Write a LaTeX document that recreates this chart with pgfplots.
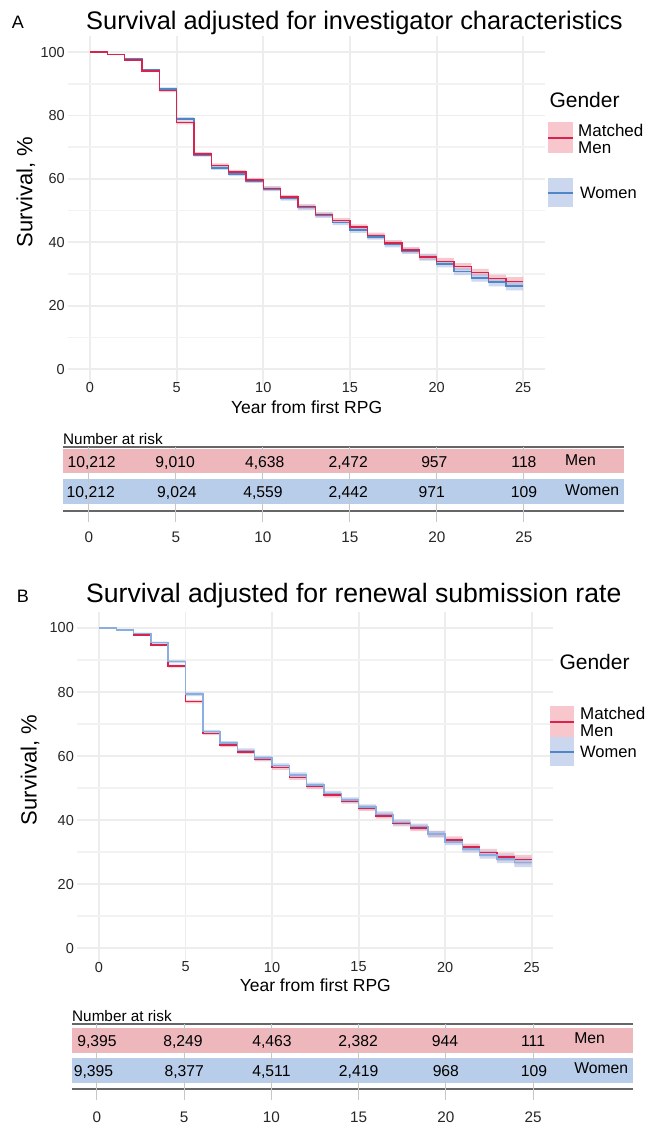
\documentclass[border=0pt]{standalone}
\usepackage{fontspec}
\setmainfont{Liberation Sans}
\usepackage{pgfplots}
\usepackage{pgfplotstable}
\pgfplotsset{compat=1.18}
\usepgfplotslibrary{fillbetween}
\newcommand{\fs}[1]{\fontsize{#1}{#1}\selectfont}
\definecolor{gridc}{HTML}{EDEDED}
\definecolor{gridm}{HTML}{F2F2F2}
\definecolor{redl}{HTML}{D7234E}
\definecolor{bluel}{HTML}{4F86C6}
\definecolor{bluelB}{HTML}{8AAEDF}
\definecolor{redb}{HTML}{F09AA6}
\definecolor{blueb}{HTML}{A3B9E4}
\definecolor{pinkrow}{HTML}{EEB7BC}
\definecolor{bluerow}{HTML}{B7CDEA}
\definecolor{legpink}{HTML}{F8C6CD}
\definecolor{legblue}{HTML}{CBD6EF}

\pgfplotstableread{
t m ml mh w wl wh
0 100 100 100 100 100 100
1 99.2 99.05 99.35 99.3 99.15 99.45
2 97.5 97.25 97.75 97.9 97.65 98.15
3 94.0 93.65 94.35 94.3 93.95 94.65
4 87.8 87.35 88.25 88.4 87.95 88.85
5 77.7 77.15 78.25 78.9 78.35 79.45
6 67.8 67.2 68.4 67.6 67.0 68.2
7 64.2 63.55 64.85 63.5 62.85 64.15
8 62.2 61.55 62.85 61.5 60.85 62.15
9 59.6 58.9 60.3 59.4 58.7 60.1
10 57.0 56.3 57.7 56.8 56.1 57.5
11 54.2 53.45 54.95 53.9 53.15 54.65
12 51.3 50.55 52.05 50.9 50.15 51.65
13 48.8 48.0 49.6 48.5 47.7 49.3
14 46.8 46.0 47.6 46.2 45.4 47.0
15 44.8 43.95 45.65 43.8 42.95 44.65
16 42.1 41.2 43.0 41.7 40.8 42.6
17 39.8 38.9 40.7 39.3 38.4 40.2
18 37.5 36.55 38.45 37.3 36.35 38.25
19 35.4 34.4 36.4 35.2 34.2 36.2
20 34.0 32.95 35.05 33.1 32.05 34.15
21 32.3 31.2 33.4 30.7 29.6 31.8
22 30.4 29.2 31.6 28.8 27.6 30.0
23 28.5 27.2 29.8 27.4 26.1 28.7
24 27.6 26.2 29.0 26.2 24.8 27.6
25 27.6 26.2 29.0 26.2 24.8 27.6
}\dA

\pgfplotstableread{
t m ml mh w wl wh
0 100 100 100 100 100 100
1 99.3 99.15 99.45 99.4 99.25 99.55
2 97.8 97.55 98.05 98.3 98.05 98.55
3 94.7 94.35 95.05 95.4 95.05 95.75
4 88.1 87.65 88.55 89.5 89.05 89.95
5 77.0 76.45 77.55 79.3 78.75 79.85
6 67.1 66.5 67.7 67.6 67.0 68.2
7 63.4 62.75 64.05 64.0 63.35 64.65
8 61.3 60.65 61.95 61.7 61.05 62.35
9 59.0 58.3 59.7 59.3 58.6 60.0
10 56.4 55.7 57.1 57.0 56.3 57.7
11 53.3 52.55 54.05 54.1 53.35 54.85
12 50.4 49.65 51.15 50.9 50.15 51.65
13 47.8 47.0 48.6 48.3 47.5 49.1
14 45.9 45.1 46.7 46.3 45.5 47.1
15 43.7 42.85 44.55 44.0 43.15 44.85
16 41.3 40.4 42.2 41.8 40.9 42.7
17 38.9 38.0 39.8 39.3 38.4 40.2
18 37.5 36.55 38.45 37.9 36.95 38.85
19 35.6 34.6 36.6 35.6 34.6 36.6
20 33.8 32.75 34.85 33.2 32.15 34.25
21 31.5 30.4 32.6 30.9 29.8 32.0
22 29.8 28.6 31.0 29.1 27.9 30.3
23 28.5 27.2 29.8 27.8 26.5 29.1
24 27.6 26.1 29.1 26.8 25.3 28.3
25 27.6 26.1 29.1 26.8 25.3 28.3
}\dB

\pgfplotstableread{
t y n
0.15 54.5 10,212
4.95 54.5 9,010
10.1 54.5 4,638
14.9 54.5 2,472
19.85 54.5 957
25.0 54.5 118
0.1 24.5 10,212
5.05 24.5 9,024
10 24.5 4,559
14.9 24.5 2,442
19.7 24.5 971
25.0 24.5 109
}\rA

\pgfplotstableread{
t y n
0 54 9,395
4.93 54 8,249
10.03 54 4,463
14.97 54 2,382
19.95 54 944
25.0 54 111
-0.2 24 9,395
5.0 24 8,377
10 24 4,511
15 24 2,419
20 24 968
25.05 24 109
}\rB

\pgfplotsset{
  km/.style={scale only axis, axis line style={draw=none},
    major tick length=0pt, minor tick length=0pt,
    xmin=-1.25, xmax=26.25, ymin=-5, ymax=105,
    xtick={0,5,...,25}, ytick={0,20,...,100}, minor ytick={10,30,...,90},
    grid=both, major grid style={draw=gridc, line width=1.9pt},
    minor grid style={draw=gridm, line width=1.6pt},
    tick label style={font=\fs{14.5}, text=black!85},
    /pgf/number format/assume math mode=true,
    xlabel={Year from first RPG}, ylabel={Survival, \%},
    xlabel style={font=\fs{17.5}, at={(axis description cs:0.5,0)}, anchor=center},
    ylabel style={font=\fs{22}, anchor=center},
  },
  risk/.style={scale only axis, axis line style={draw=none},
    major tick length=0pt, ytick=\empty, xtick={0,5,...,25},
    xmajorgrids, major grid style={draw=black!22, line width=1pt},
    axis on top, clip=false,
    tick label style={font=\fs{15.3}, text=black!85},
    /pgf/number format/assume math mode=true,
  },
}

\begin{document}
\begin{tikzpicture}

% ---------------- Panel A ----------------
\node[anchor=base, font=\fs{18}] at (18pt,-28pt) {A};
\node[anchor=base west, font=\fs{25.4}, inner sep=0pt] at (86pt,-29pt) {Survival adjusted for investigator characteristics};

\begin{axis}[km, at={(68.3pt,-384.9pt)}, anchor=south west, width=476.6pt, height=348.7pt,
  xticklabel style={anchor=center, yshift=-2.5pt},
  xlabel style={yshift=-22pt},
  ylabel style={at={(axis description cs:-0.089,0.553)}}]
\addplot[const plot, draw=none, name path=amh] table[x=t,y=mh]{\dA};
\addplot[const plot, draw=none, name path=aml] table[x=t,y=ml]{\dA};
\addplot[const plot, draw=none, name path=awh] table[x=t,y=wh]{\dA};
\addplot[const plot, draw=none, name path=awl] table[x=t,y=wl]{\dA};
\addplot[fill=redb, fill opacity=0.55, draw=none] fill between[of=amh and aml];
\addplot[fill=blueb, fill opacity=0.55, draw=none] fill between[of=awh and awl];
\addplot[const plot, bluel, line width=1.5pt] table[x=t,y=w]{\dA};
\addplot[const plot, redl, line width=1.5pt] table[x=t,y=m]{\dA};
\end{axis}

% legend A
\node[anchor=west, font=\fs{21}] at (546pt,-100pt) {Gender};
\fill[legpink] (548pt,-122pt) rectangle (573pt,-153pt);
\draw[redl, line width=2pt] (548pt,-137.5pt) -- (573pt,-137.5pt);
\node[anchor=west, align=left, font=\fs{17}, inner sep=0pt] at (578pt,-138.5pt) {Matched\\Men};
\fill[legblue] (548pt,-178pt) rectangle (573pt,-207pt);
\draw[bluel, line width=2pt] (548pt,-192.5pt) -- (573pt,-192.5pt);
\node[anchor=west, font=\fs{16.5}, inner sep=0pt] at (580pt,-193pt) {Women};

% risk table A
\begin{axis}[risk, at={(63pt,-522pt)}, anchor=south west, width=561pt, height=75pt,
  xmin=-1.494, xmax=30.75, ymin=0, ymax=75,
  xticklabel style={anchor=center, yshift=-15.5pt}]
\fill[pinkrow] (axis cs:-1.494,49) rectangle (axis cs:30.75,73);
\fill[bluerow] (axis cs:-1.494,18) rectangle (axis cs:30.75,43);
\draw[black!60, line width=1.3pt] (axis cs:-1.494,75) -- (axis cs:30.75,75);
\draw[black!60, line width=1.3pt] (axis cs:-1.494,11) -- (axis cs:30.75,11);
\addplot[draw=none, mark=none, nodes near coords, point meta=explicit symbolic,
  every node near coord/.append style={anchor=base, font=\fs{15.7}, text=black}]
  table[x=t, y=y, meta=n]{\rA};
\node[anchor=base west, font=\fs{15.3}, inner sep=0pt] at (axis cs:-1.494,78) {Number at risk};
\node[anchor=base west, font=\fs{15.7}, inner sep=0pt] at (axis cs:27.36,57) {Men};
\node[anchor=base west, font=\fs{15.7}, inner sep=0pt] at (axis cs:27.36,27) {Women};
\end{axis}

% ---------------- Panel B ----------------
\node[anchor=base, font=\fs{18}] at (23pt,-602pt) {B};
\node[anchor=base west, font=\fs{26.6}, inner sep=0pt] at (86pt,-602pt) {Survival adjusted for renewal submission rate};

\begin{axis}[km, at={(77.4pt,-964pt)}, anchor=south west, width=475.8pt, height=352pt,
  xticklabel style={anchor=center, yshift=-3pt},
  xlabel style={yshift=-21pt},
  ylabel style={at={(axis description cs:-0.0996,0.551)}}]
\addplot[const plot, draw=none, name path=bmh] table[x=t,y=mh]{\dB};
\addplot[const plot, draw=none, name path=bml] table[x=t,y=ml]{\dB};
\addplot[const plot, draw=none, name path=bwh] table[x=t,y=wh]{\dB};
\addplot[const plot, draw=none, name path=bwl] table[x=t,y=wl]{\dB};
\addplot[fill=redb, fill opacity=0.55, draw=none] fill between[of=bmh and bml];
\addplot[fill=blueb, fill opacity=0.55, draw=none] fill between[of=bwh and bwl];
\addplot[const plot, redl, line width=1.5pt] table[x=t,y=m]{\dB};
\addplot[const plot, bluelB, line width=1.5pt] table[x=t,y=w]{\dB};
\end{axis}

% legend B
\node[anchor=west, font=\fs{21}] at (556pt,-662pt) {Gender};
\fill[legpink] (550pt,-706pt) rectangle (574pt,-737pt);
\draw[redl, line width=2pt] (550pt,-721.5pt) -- (574pt,-721.5pt);
\node[anchor=west, align=left, font=\fs{17}, inner sep=0pt] at (580pt,-722pt) {Matched\\Men};
\fill[legblue] (550pt,-737pt) rectangle (574pt,-766pt);
\draw[bluel, line width=2pt] (550pt,-751.5pt) -- (574pt,-751.5pt);
\node[anchor=west, font=\fs{16.5}, inner sep=0pt] at (580pt,-751.5pt) {Women};

% risk table B
\begin{axis}[risk, at={(72pt,-1100pt)}, anchor=south west, width=561pt, height=76pt,
  xmin=-1.433, xmax=30.73, ymin=0, ymax=76,
  xticklabel style={anchor=center, yshift=-17pt}]
\fill[pinkrow] (axis cs:-1.433,47) rectangle (axis cs:30.73,72);
\fill[bluerow] (axis cs:-1.433,17) rectangle (axis cs:30.73,42);
\draw[black!60, line width=1.3pt] (axis cs:-1.433,76) -- (axis cs:30.73,76);
\draw[black!60, line width=1.3pt] (axis cs:-1.433,11) -- (axis cs:30.73,11);
\addplot[draw=none, mark=none, nodes near coords, point meta=explicit symbolic,
  every node near coord/.append style={anchor=base, font=\fs{15.7}, text=black}]
  table[x=t, y=y, meta=n]{\rB};
\node[anchor=base west, font=\fs{15.3}, inner sep=0pt] at (axis cs:-1.433,79) {Number at risk};
\node[anchor=base west, font=\fs{15.7}, inner sep=0pt] at (axis cs:27.35,57) {Men};
\node[anchor=base west, font=\fs{15.7}, inner sep=0pt] at (axis cs:27.35,27) {Women};
\end{axis}

\pgfresetboundingbox
\path[use as bounding box] (0,0) rectangle (648pt,-1127pt);
\end{tikzpicture}
\end{document}
